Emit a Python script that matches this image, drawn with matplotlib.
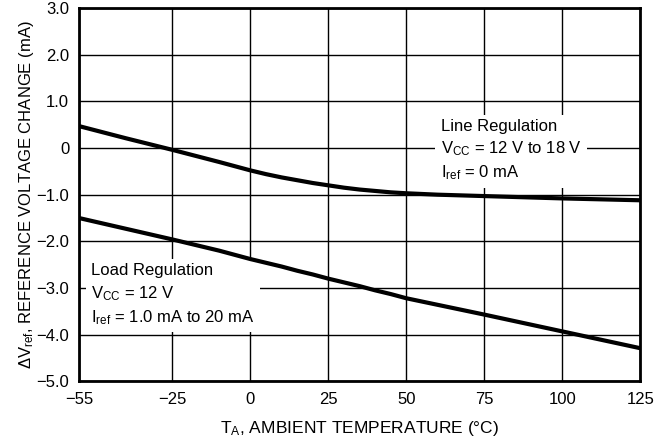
import matplotlib.pyplot as plt

plt.rcParams['font.family'] = ['Liberation Sans', 'DejaVu Sans']
plt.rcParams['mathtext.default'] = 'regular'

# temperature points (deg C)
temp = [-55, -40, -25, -10, 0, 5, 10, 15, 20, 25, 30, 35, 40, 45, 50, 60, 75, 100, 125]

# line regulation curve
line_reg = [0.47, 0.21, -0.04, -0.30, -0.48, -0.56, -0.63, -0.69, -0.75, -0.80,
            -0.85, -0.89, -0.92, -0.95, -0.97, -1.00, -1.03, -1.08, -1.12]

# load regulation curve
load_reg = [-1.50, -1.73, -1.96, -2.20, -2.38, -2.46, -2.54, -2.63, -2.71, -2.80,
            -2.88, -2.96, -3.05, -3.13, -3.22, -3.36, -3.57, -3.93, -4.29]

xticks = [-55, -25, 0, 25, 50, 75, 100, 125]
yticks = [-5.0, -4.0, -3.0, -2.0, -1.0, 0, 1.0, 2.0, 3.0]
ytick_labels = ['\u22125.0', '\u22124.0', '\u22123.0', '\u22122.0', '\u22121.0', '0', '1.0', '2.0', '3.0']
xtick_labels = ['\u221255', '\u221225', '0', '25', '50', '75', '100', '125']

fig = plt.figure(figsize=(6.69, 4.46), dpi=100)
ax = fig.add_axes([0.118, 0.145, 0.839, 0.837])

ax.plot(temp, line_reg, color='black', lw=3, solid_capstyle='butt', zorder=3)
ax.plot(temp, load_reg, color='black', lw=3, solid_capstyle='butt', zorder=3)

ax.set_xlim(-55, 125)
ax.set_ylim(-5.0, 3.0)
ax.set_xticks(xticks)
ax.set_xticklabels(xtick_labels)
ax.set_yticks(yticks)
ax.set_yticklabels(ytick_labels)
ax.tick_params(length=0, labelsize=12)
ax.tick_params(axis='x', pad=8)
ax.tick_params(axis='y', pad=7)
ax.grid(True, color='black', lw=1)
ax.set_axisbelow(True)
for s in ax.spines.values():
    s.set_linewidth(2)

ax.set_xlabel('T$_A$, AMBIENT TEMPERATURE (\u00b0C)', fontsize=12.5, labelpad=8)
ax.set_ylabel('\u0394V$_{ref}$, REFERENCE VOLTAGE CHANGE (mA)', fontsize=12, labelpad=0)

box = dict(facecolor='white', edgecolor='none', pad=4)
ax.text(61, 0.63, 'Line Regulation\nV$_{CC}$ = 12 V to 18 V\nI$_{ref}$ = 0 mA',
        fontsize=12, va='top', ha='left', bbox=box, linespacing=1.4, zorder=2)
ax.text(-51, -2.47, 'Load Regulation\nV$_{CC}$ = 12 V\nI$_{ref}$ = 1.0 mA to 20 mA',
        fontsize=12, va='top', ha='left', bbox=box, linespacing=1.4, zorder=2)

fig.savefig('out.png', dpi=100)
